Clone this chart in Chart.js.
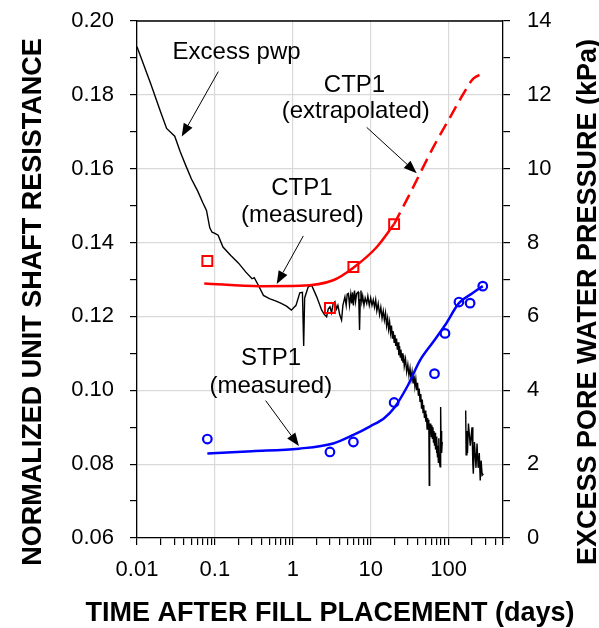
<!DOCTYPE html>
<html>
<head>
<meta charset="utf-8">
<script src="https://cdn.jsdelivr.net/npm/chart.js@4.4.0/dist/chart.umd.min.js"></script>
<style>
html,body{margin:0;padding:0;background:#fff;}
#wrap{width:599px;height:628px;position:relative;}
</style>
</head>
<body>
<div id="wrap"><canvas id="c"></canvas></div>
<script>
// ---------------- DATA ----------------
const pwpDays = [0.01,0.015,0.02,0.024,0.0305,0.036,0.043,0.05,0.06,0.07,0.078,0.086,0.092,0.1,0.11,0.127,0.16,0.2,0.25,0.3,0.32,0.36,0.42,0.5,0.6,0.7,0.83,0.96,1.1,1.23,1.33,1.38,1.42,
  1.58,1.75,2.03,2.35,2.55,2.72,2.85,3.0,3.15,3.3,3.48,3.65,3.8,4.0,4.23,4.4,4.67,4.85,5.0,5.18,5.35,5.55,5.7,5.85,6.0,6.2,6.4,6.6,6.9,7.05,7.2,7.35,7.5,7.7,7.9,8.2,8.5,8.9,9.2,9.6,
  10,10.4,10.8,11.2,11.6,12,12.5,13,13.5,14,14.5,15,15.5,16,16.5,17,17.5,18,18.5,19,19.5,20,20.5,21,21.5,22,22.5,23,23.5,24,24.5,25,25.5,26,26.5,27,28,29,30,31,32,33,34,35,36,37,38,39,40,41,42,43,44,45,46,47,48,49,50,51,52,53,54,55,55.8,56.5,57.2,58,59,60,61,62,63,64,65,66,67,68,69,70,71,72,73,74,75,76,77,78,78.8,79.5,80.2,81,82,83,
  120,163,166,168,172,175,180,190,200,205,208,215,225,232,240,248,255,262,270,280];
const pwpKpa = [13.3,12.3,11.55,11.09,10.88,10.45,10.05,9.72,9.4,9.08,8.87,8.4,8.28,8.25,8.2,7.88,7.65,7.45,7.2,7.02,7.05,6.85,6.57,6.48,6.42,6.36,6.28,6.17,6.3,6.64,6.65,5.2,6.5,
  6.8,6.84,6.53,6.17,6.05,5.99,6.2,6.26,6.1,6.35,6.4,6.2,6.3,6.05,5.9,6.3,6.53,6.3,6.6,6.62,6.3,6.6,6.35,6.65,6.3,6.7,6.4,6.62,6.66,6.4,5.63,6.45,6.7,6.4,6.55,6.3,6.5,6.35,6.55,6.3,
  6.5,6.3,6.45,6.25,6.45,6.15,6.35,6.05,6.25,5.95,6.15,5.9,6.1,5.75,5.95,5.65,5.85,5.55,5.75,5.4,5.6,5.3,5.5,5.2,5.4,5.1,5.3,4.95,5.2,4.9,5.1,4.8,5.0,4.75,4.95,4.65,4.85,4.5,4.7,4.4,4.6,4.3,4.5,4.2,4.4,4.1,4.3,4.0,4.2,3.85,4.05,3.7,3.9,3.5,3.75,3.4,3.6,3.25,3.45,3.15,3.35,2.95,3.25,3.0,3.2,1.43,3.1,2.85,3.1,2.75,3.05,2.7,3.0,2.6,2.9,2.5,2.85,2.4,2.75,2.3,2.7,2.2,2.5,2.05,2.7,2.2,2.0,1.93,2.6,3.55,2.5,2.9,2.3,2.6,
  null,3.37,3.45,2.25,2.9,2.3,3.1,2.5,3.0,2.0,1.74,2.6,1.9,2.56,1.9,2.3,1.56,2.1,1.7,1.74];

const ctpDays = [0.08, 3, 6, 20];
const ctpMeasured = [0.135, 0.1223, 0.1334, 0.145];
const ctpFitDays = [0.073, 0.38, 1.23, 3.3, 6, 12, 20];
const ctpFitValues = [0.1289, 0.1282, 0.1283, 0.1298, 0.1332, 0.1388, 0.145];
const ctpExtrapDays = [20, 32, 64, 105, 155, 208, 294];
const ctpExtrapValues = [0.145, 0.1533, 0.1659, 0.174, 0.1803, 0.1844, 0.1859];

const stpDays = [0.08, 3, 6, 20, 66, 90, 136, 189, 275];
const stpMeasured = [0.0868, 0.0833, 0.086, 0.0967, 0.1045, 0.1154, 0.1239, 0.1236, 0.1282];
const stpFitDays = [0.08, 0.3, 1.2, 3.3, 6, 10, 15, 20, 30, 43, 63, 90, 136, 200, 275];
const stpFitValues = [0.0829, 0.0835, 0.0842, 0.0856, 0.0879, 0.0903, 0.0925, 0.0952, 0.1013, 0.1081, 0.1130, 0.1176, 0.1236, 0.1262, 0.1282];

const xTickValues = [0.01, 0.1, 1, 10, 100];
const xTickLabels = ['0.01', '0.1', '1', '10', '100'];
const leftTickLabels = ['0.06', '0.08', '0.10', '0.12', '0.14', '0.16', '0.18', '0.20'];
const rightTickLabels = ['0', '2', '4', '6', '8', '10', '12', '14'];

const noteTexts = ['Excess pwp', 'CTP1', '(extrapolated)', 'CTP1', '(measured)', 'STP1', '(measured)'];
const noteDays = [0.19, 6.2, 6.44, 1.31, 1.33, 0.525, 0.522];
const noteValues = [0.1896, 0.1809, 0.1737, 0.1529, 0.1457, 0.1068, 0.0992];

const arrowFromDays = [0.1106, 8.89, 1.365, 0.449];
const arrowFromValues = [0.1863, 0.1712, 0.1418, 0.0972];
const arrowToDays = [0.0375, 39.0, 0.622, 1.20];
const arrowToValues = [0.1687, 0.1588, 0.1288, 0.0849];

const xTitle = 'TIME AFTER FILL PLACEMENT (days)';
const yTitle = 'NORMALIZED UNIT SHAFT RESISTANCE';
const y2Title = 'EXCESS PORE WATER PRESSURE (kPa)';

// ---------------- HELPERS ----------------
const pts = (xs, ys) => xs.map((x, i) => ({x: x, y: ys[i]}));
const GRID = '#d9d9d9';
const FONT = "'Liberation Sans', Arial, Helvetica, sans-serif";
Chart.defaults.font.family = FONT;
Chart.defaults.color = '#000';

// log-axis tick marks: 1..9 per decade up to the axis max
const xMarks = [];
for (let e = -2; e <= 2; e++) {
  for (let m = 1; m <= 9; m++) {
    const v = parseFloat((m * Math.pow(10, e)).toPrecision(3));
    if (v <= 500) xMarks.push(v);
  }
}
xMarks.push(500);
const majorIndex = v => xTickValues.findIndex(t => Math.abs(t - v) / t < 1e-6);

const leftMarks = [];
for (let i = 6; i <= 20; i++) leftMarks.push(i / 100);
const rightMarks = [];
for (let i = 0; i <= 14; i++) rightMarks.push(i);

const noPad = s => { s.paddingTop = 0; s.paddingBottom = 0; s.paddingLeft = 0; s.paddingRight = 0; };

const decorPlugin = {
  id: 'decor',
  afterDraw(chart) {
    const ctx = chart.ctx;
    const a = chart.chartArea;
    const xs = chart.scales.x, ys = chart.scales.y;
    ctx.save();
    // top frame
    ctx.strokeStyle = '#000';
    ctx.lineWidth = 1.3;
    ctx.beginPath();
    ctx.moveTo(a.left, a.top);
    ctx.lineTo(a.right, a.top);
    ctx.stroke();

    // annotation text
    ctx.fillStyle = '#000';
    ctx.font = '24px ' + FONT;
    ctx.textAlign = 'center';
    ctx.textBaseline = 'alphabetic';
    noteTexts.forEach((t, i) => {
      ctx.fillText(t, xs.getPixelForValue(noteDays[i]), ys.getPixelForValue(noteValues[i]));
    });

    // arrows
    ctx.lineWidth = 1;
    arrowFromDays.forEach((d, i) => {
      const x0 = xs.getPixelForValue(d), y0 = ys.getPixelForValue(arrowFromValues[i]);
      const x1 = xs.getPixelForValue(arrowToDays[i]), y1 = ys.getPixelForValue(arrowToValues[i]);
      const ang = Math.atan2(y1 - y0, x1 - x0);
      const L = 13, W = 5;
      const bx = x1 - L * Math.cos(ang), by = y1 - L * Math.sin(ang);
      ctx.beginPath();
      ctx.moveTo(x0, y0);
      ctx.lineTo(bx, by);
      ctx.stroke();
      ctx.beginPath();
      ctx.moveTo(x1, y1);
      ctx.lineTo(bx + W * Math.sin(ang), by - W * Math.cos(ang));
      ctx.lineTo(bx - W * Math.sin(ang), by + W * Math.cos(ang));
      ctx.closePath();
      ctx.fill();
    });

    // axis titles
    ctx.font = 'bold 27px ' + FONT;
    ctx.textAlign = 'center';
    ctx.textBaseline = 'alphabetic';
    ctx.fillText(xTitle, 330, 621);
    ctx.save();
    ctx.translate(41, 302);
    ctx.rotate(-Math.PI / 2);
    ctx.fillText(yTitle, 0, 0);
    ctx.restore();
    ctx.save();
    ctx.translate(596, 302);
    ctx.rotate(-Math.PI / 2);
    ctx.fillText(y2Title, 0, 0);
    ctx.restore();
    ctx.restore();
  }
};

new Chart(document.getElementById('c'), {
  type: 'line',
  data: {
    datasets: [
      {
        label: 'CTP1 measured', data: pts(ctpDays, ctpMeasured), yAxisID: 'y',
        showLine: false, pointStyle: 'rect', pointRadius: 7, pointBorderWidth: 2,
        pointBorderColor: '#ff0000', pointBackgroundColor: 'rgba(0,0,0,0)', order: 0
      },
      {
        label: 'STP1 measured', data: pts(stpDays, stpMeasured), yAxisID: 'y',
        showLine: false, pointStyle: 'circle', pointRadius: 4.3, pointBorderWidth: 2.2,
        pointBorderColor: '#0000ff', pointBackgroundColor: 'rgba(0,0,0,0)', order: 0
      },
      {
        label: 'CTP1 fit', data: pts(ctpFitDays, ctpFitValues), yAxisID: 'y',
        borderColor: '#ff0000', borderWidth: 2.5, pointRadius: 0,
        cubicInterpolationMode: 'monotone', order: 1
      },
      {
        label: 'CTP1 extrapolated', data: pts(ctpExtrapDays, ctpExtrapValues), yAxisID: 'y',
        borderColor: '#ff0000', borderWidth: 2.5, borderDash: [13, 7], pointRadius: 0,
        cubicInterpolationMode: 'monotone', order: 1
      },
      {
        label: 'STP1 fit', data: pts(stpFitDays, stpFitValues), yAxisID: 'y',
        borderColor: '#0000ff', borderWidth: 2.5, pointRadius: 0,
        cubicInterpolationMode: 'monotone', order: 1
      },
      {
        label: 'Excess pwp', data: pts(pwpDays, pwpKpa), yAxisID: 'y2',
        borderColor: '#000', borderWidth: 1.4, pointRadius: 0, tension: 0,
        spanGaps: false, order: 5
      }
    ]
  },
  options: {
    responsive: true,
    maintainAspectRatio: false,
    animation: false,
    layout: { padding: { top: 21, left: 0, right: 0, bottom: 0 } },
    plugins: { legend: { display: false }, tooltip: { enabled: false } },
    scales: {
      x: {
        type: 'logarithmic', position: 'bottom', min: 0.01, max: 500,
        afterBuildTicks: s => { s.ticks = xMarks.map(v => ({ value: v, major: majorIndex(v) >= 0 })); },
        afterFit: s => { s.height = 90; noPad(s); },
        ticks: {
          autoSkip: false, maxRotation: 0, minRotation: 0, padding: 12,
          font: { size: 22 }, color: '#000',
          callback: v => { const i = majorIndex(v); return i >= 0 ? xTickLabels[i] : ''; }
        },
        grid: {
          color: c => (c.tick && majorIndex(c.tick.value) >= 0) ? GRID : 'rgba(0,0,0,0)',
          tickColor: '#000', tickLength: 7, lineWidth: 1.2
        },
        border: { color: '#000', width: 1.3 }
      },
      y: {
        type: 'linear', position: 'left', min: 0.06, max: 0.20,
        afterBuildTicks: s => { s.ticks = leftMarks.map(v => ({ value: v })); },
        afterFit: s => { s.width = 137; noPad(s); },
        ticks: {
          padding: 16, font: { size: 22 }, color: '#000',
          callback: (v, i) => (i % 2 === 0 ? leftTickLabels[i / 2] : '')
        },
        grid: {
          color: c => (c.index % 2 === 0) ? GRID : 'rgba(0,0,0,0)',
          tickColor: '#000', tickLength: 7, lineWidth: 1.2
        },
        border: { color: '#000', width: 1.3 }
      },
      y2: {
        type: 'linear', position: 'right', min: 0, max: 14,
        afterBuildTicks: s => { s.ticks = rightMarks.map(v => ({ value: v })); },
        afterFit: s => { s.width = 96; noPad(s); },
        ticks: {
          padding: 17, font: { size: 22 }, color: '#000',
          callback: (v, i) => (i % 2 === 0 ? rightTickLabels[i / 2] : '')
        },
        grid: { drawOnChartArea: false, color: '#000', tickColor: '#000', tickLength: 7, lineWidth: 1.2 },
        border: { color: '#000', width: 1.3 }
      }
    }
  },
  plugins: [decorPlugin]
});
</script>
</body>
</html>
